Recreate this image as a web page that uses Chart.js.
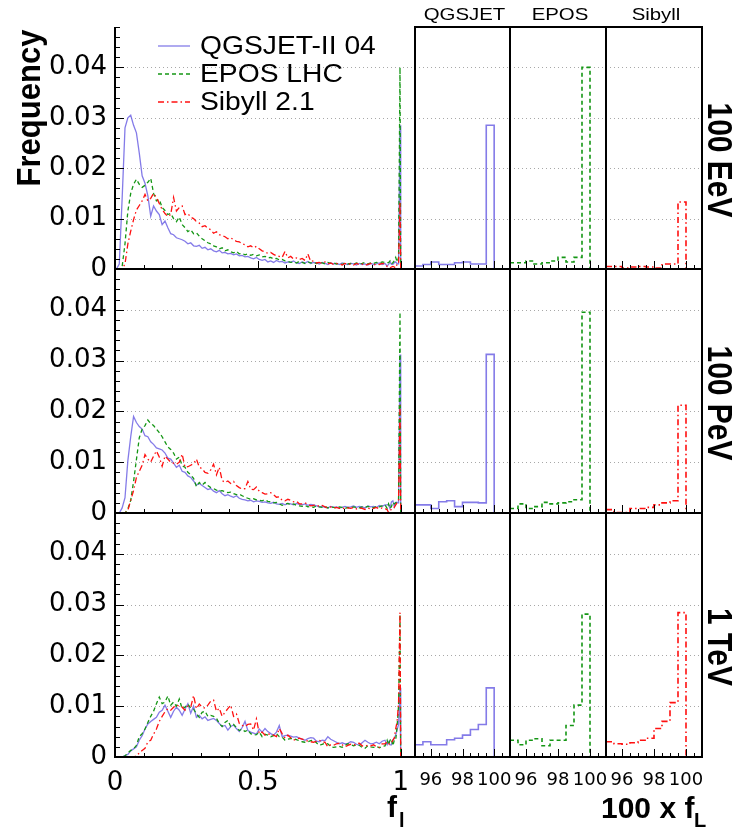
<!DOCTYPE html>
<html>
<head>
<meta charset="utf-8">
<script src="https://cdn.jsdelivr.net/npm/chart.js@4.4.1/dist/chart.umd.min.js"></script>
<style>
body{margin:0;background:#fff;}
#wrap{position:relative;width:733px;height:830px;}
#wrap canvas{position:absolute;left:0;top:0;}
</style>
</head>
<body>
<div id="wrap"></div>
<script>
// rows = primary energy, columns = hadronic model
var energies = ['100 EeV', '100 PeV', '1 TeV'];
var models = ['QGSJET-II 04', 'EPOS LHC', 'Sibyll 2.1'];
var shortNames = ['QGSJET', 'EPOS', 'Sibyll'];

var yTicks = [0, 0.01, 0.02, 0.03, 0.04];
var xTicksMain = [0, 0.5, 1];
var xTicksZoom = [96, 98, 100];

// f_l distribution, bins of 0.01 from 0 to 0.95
var qgsEeV = [0, 0.001, 0.014, 0.028, 0.030, 0.0305, 0.0285, 0.027, 0.023, 0.0185,
  0.0170, 0.0145, 0.0105, 0.0125, 0.0115, 0.0108, 0.0088, 0.0095, 0.0082, 0.0070,
  0.0068, 0.0062, 0.0060, 0.0058, 0.0055, 0.0050, 0.0052, 0.0046, 0.0045, 0.0047,
  0.0041, 0.0043, 0.0038, 0.0040, 0.0036, 0.0034, 0.0037, 0.0032, 0.0033, 0.0030,
  0.0031, 0.0028, 0.0030, 0.0026, 0.0027, 0.0024, 0.0025, 0.0022, 0.0020, 0.0023,
  0.0019, 0.0017, 0.0019, 0.0014, 0.0016, 0.0013, 0.0017, 0.0014, 0.0015, 0.0012,
  0.0014, 0.0013, 0.0016, 0.0012, 0.0011, 0.0014, 0.0012, 0.0015, 0.0011, 0.0013,
  0.0012, 0.0010, 0.0013, 0.0011, 0.0009, 0.0012, 0.0010, 0.0011, 0.0009, 0.0012,
  0.0010, 0.0009, 0.0011, 0.0010, 0.0008, 0.0011, 0.0009, 0.0010, 0.0008, 0.0011,
  0.0009, 0.0010, 0.0012, 0.0009, 0.0011];
var eposEeV = [0, 0, 0.0005, 0.005, 0.0115, 0.0150, 0.0168, 0.0178, 0.0168, 0.0162,
  0.0166, 0.0172, 0.0180, 0.0150, 0.0135, 0.0138, 0.0122, 0.0116, 0.0108, 0.0110,
  0.0100, 0.0094, 0.0103, 0.0088, 0.0082, 0.0074, 0.0078, 0.0070, 0.0072, 0.0065,
  0.0060, 0.0056, 0.0052, 0.0050, 0.0046, 0.0044, 0.0040, 0.0042, 0.0036, 0.0038,
  0.0034, 0.0032, 0.0035, 0.0030, 0.0031, 0.0028, 0.0030, 0.0027, 0.0029, 0.0026,
  0.0028, 0.0024, 0.0025, 0.0022, 0.0023, 0.0020, 0.0021, 0.0018, 0.0019, 0.0016,
  0.0015, 0.0013, 0.0014, 0.0012, 0.0015, 0.0013, 0.0011, 0.0014, 0.0012, 0.0013,
  0.0011, 0.0014, 0.0012, 0.0010, 0.0013, 0.0011, 0.0012, 0.0010, 0.0011, 0.0009,
  0.0012, 0.0010, 0.0011, 0.0009, 0.0012, 0.0010, 0.0011, 0.0013, 0.0010, 0.0012,
  0.0011, 0.0013, 0.0012, 0.0014, 0.0013];
var sibEeV = [0, 0, 0, 0.001, 0.005, 0.0075, 0.0098, 0.0117, 0.0126, 0.0135,
  0.0148, 0.0135, 0.0140, 0.0150, 0.0142, 0.0130, 0.0118, 0.0110, 0.0104, 0.0108,
  0.0142, 0.0115, 0.0122, 0.0125, 0.0108, 0.0110, 0.0103, 0.0100, 0.0094, 0.0091,
  0.0084, 0.0086, 0.0081, 0.0078, 0.0071, 0.0074, 0.0068, 0.0066, 0.0064, 0.0060,
  0.0062, 0.0058, 0.0055, 0.0054, 0.0050, 0.0048, 0.0044, 0.0046, 0.0042, 0.0045,
  0.0040, 0.0036, 0.0034, 0.0031, 0.0033, 0.0029, 0.0026, 0.0025, 0.0023, 0.0035,
  0.0022, 0.0025, 0.0020, 0.0022, 0.0019, 0.0021, 0.0017, 0.0030, 0.0015, 0.0016,
  0.0012, 0.0013, 0.0011, 0.0014, 0.0010, 0.0012, 0.0009, 0.0011, 0.0010, 0.0008,
  0.0011, 0.0009, 0.0010, 0.0008, 0.0011, 0.0009, 0.0010, 0.0007, 0.0009, 0.0011,
  0.0008, 0.0010, 0.0009, 0.0011, 0.0010];

var qgsPeV = [0, 0, 0.001, 0.0030, 0.0103, 0.0150, 0.0190, 0.0178, 0.0170, 0.0165,
  0.0152, 0.0150, 0.0140, 0.0135, 0.0128, 0.0126, 0.0124, 0.0118, 0.0108, 0.0106,
  0.0098, 0.0090, 0.0094, 0.0082, 0.0080, 0.0073, 0.0070, 0.0063, 0.0055, 0.0058,
  0.0054, 0.0050, 0.0046, 0.0048, 0.0043, 0.0040, 0.0044, 0.0038, 0.0034, 0.0036,
  0.0033, 0.0031, 0.0034, 0.0029, 0.0027, 0.0026, 0.0024, 0.0025, 0.0022, 0.0024,
  0.0023, 0.0021, 0.0022, 0.0020, 0.0019, 0.0021, 0.0018, 0.0017, 0.0019, 0.0016,
  0.0019, 0.0018, 0.0016, 0.0019, 0.0017, 0.0016, 0.0018, 0.0015, 0.0017, 0.0016,
  0.0014, 0.0012, 0.0013, 0.0011, 0.0010, 0.0013, 0.0011, 0.0012, 0.0010, 0.0011,
  0.0013, 0.0011, 0.0012, 0.0014, 0.0011, 0.0013, 0.0012, 0.0010, 0.0014, 0.0012,
  0.0013, 0.0011, 0.0015, 0.0013, 0.0016];
var eposPeV = [0, 0, 0, 0, 0.0008, 0.0025, 0.0062, 0.0105, 0.0148, 0.0165,
  0.0172, 0.0183, 0.0176, 0.0172, 0.0165, 0.0158, 0.0150, 0.0140, 0.0130, 0.0125,
  0.0118, 0.0106, 0.0110, 0.0093, 0.0090, 0.0080, 0.0075, 0.0068, 0.0052, 0.0060,
  0.0055, 0.0060, 0.0054, 0.0050, 0.0048, 0.0045, 0.0043, 0.0044, 0.0042, 0.0040,
  0.0041, 0.0038, 0.0036, 0.0037, 0.0034, 0.0031, 0.0029, 0.0027, 0.0028, 0.0026,
  0.0025, 0.0024, 0.0026, 0.0023, 0.0022, 0.0020, 0.0021, 0.0018, 0.0015, 0.0017,
  0.0019, 0.0016, 0.0018, 0.0015, 0.0014, 0.0013, 0.0015, 0.0012, 0.0013, 0.0011,
  0.0014, 0.0012, 0.0011, 0.0013, 0.0010, 0.0012, 0.0011, 0.0010, 0.0012, 0.0011,
  0.0009, 0.0011, 0.0010, 0.0012, 0.0011, 0.0010, 0.0012, 0.0011, 0.0013, 0.0012,
  0.0010, 0.0013, 0.0012, 0.0014, 0.0016];
var sibPeV = [0, 0, 0, 0, 0.0005, 0.0025, 0.0044, 0.0070, 0.0082, 0.0094,
  0.0115, 0.0106, 0.0100, 0.0112, 0.0122, 0.0110, 0.0092, 0.0112, 0.0106, 0.0100,
  0.0098, 0.0096, 0.0100, 0.0116, 0.0090, 0.0091, 0.0094, 0.0097, 0.0106, 0.0090,
  0.0087, 0.0080, 0.0078, 0.0085, 0.0096, 0.0075, 0.0090, 0.0064, 0.0060, 0.0063,
  0.0058, 0.0062, 0.0054, 0.0050, 0.0047, 0.0048, 0.0062, 0.0047, 0.0046, 0.0051,
  0.0043, 0.0040, 0.0037, 0.0038, 0.0040, 0.0036, 0.0031, 0.0032, 0.0025, 0.0024,
  0.0027, 0.0025, 0.0022, 0.0023, 0.0018, 0.0018, 0.0020, 0.0017, 0.0014, 0.0015,
  0.0016, 0.0013, 0.0015, 0.0012, 0.0010, 0.0012, 0.0010, 0.0011, 0.0009, 0.0010,
  0.0008, 0.0010, 0.0009, 0.0011, 0.0008, 0.0010, 0.0009, 0.0007, 0.0010, 0.0008,
  0.0009, 0.0011, 0.0008, 0.0010, 0.0009];

var qgsTeV = [0, 0, 0, 0.0003, 0.0005, 0.0012, 0.0016, 0.0020, 0.0033, 0.0042,
  0.0055, 0.0065, 0.0070, 0.0074, 0.0078, 0.0088, 0.0092, 0.0102, 0.0090, 0.0078,
  0.0090, 0.0098, 0.0092, 0.0082, 0.0094, 0.0105, 0.0086, 0.0100, 0.0078, 0.0082,
  0.0075, 0.0079, 0.0072, 0.0074, 0.0076, 0.0072, 0.0066, 0.0060, 0.0062, 0.0053,
  0.0060, 0.0063, 0.0056, 0.0050, 0.0058, 0.0070, 0.0052, 0.0049, 0.0047, 0.0045,
  0.0055, 0.0049, 0.0056, 0.0050, 0.0046, 0.0043, 0.0049, 0.0062, 0.0040, 0.0042,
  0.0043, 0.0041, 0.0039, 0.0040, 0.0037, 0.0035, 0.0033, 0.0036, 0.0038, 0.0037,
  0.0031, 0.0030, 0.0033, 0.0032, 0.0040, 0.0035, 0.0032, 0.0029, 0.0026, 0.0028,
  0.0026, 0.0027, 0.0030, 0.0029, 0.0025, 0.0023, 0.0028, 0.0033, 0.0029, 0.0026,
  0.0027, 0.0029, 0.0026, 0.0031, 0.0033];
var eposTeV = [0, 0, 0, 0.0002, 0.0008, 0.0013, 0.0016, 0.0023, 0.0040, 0.0046,
  0.0055, 0.0068, 0.0080, 0.0090, 0.0105, 0.0118, 0.0105, 0.0108, 0.0120, 0.0102,
  0.0108, 0.0100, 0.0114, 0.0095, 0.0098, 0.0104, 0.0096, 0.0094, 0.0085, 0.0078,
  0.0088, 0.0090, 0.0080, 0.0082, 0.0080, 0.0076, 0.0066, 0.0060, 0.0068, 0.0072,
  0.0060, 0.0064, 0.0058, 0.0052, 0.0055, 0.0050, 0.0053, 0.0046, 0.0043, 0.0044,
  0.0049, 0.0040, 0.0045, 0.0043, 0.0040, 0.0042, 0.0046, 0.0040, 0.0039, 0.0033,
  0.0035, 0.0036, 0.0036, 0.0034, 0.0032, 0.0030, 0.0029, 0.0030, 0.0032, 0.0033,
  0.0028, 0.0023, 0.0025, 0.0027, 0.0026, 0.0020, 0.0019, 0.0020, 0.0021, 0.0019,
  0.0023, 0.0026, 0.0024, 0.0022, 0.0024, 0.0023, 0.0019, 0.0017, 0.0022, 0.0020,
  0.0019, 0.0021, 0.0018, 0.0021, 0.0022];
var sibTeV = [0, 0, 0, 0, 0, 0, 0, 0.0002, 0.0008, 0.0013,
  0.0017, 0.0030, 0.0033, 0.0045, 0.0055, 0.0070, 0.0080, 0.0089, 0.0095, 0.0092,
  0.0098, 0.0102, 0.0100, 0.0098, 0.0092, 0.0100, 0.0098, 0.0121, 0.0095, 0.0104,
  0.0098, 0.0096, 0.0102, 0.0110, 0.0112, 0.0090, 0.0096, 0.0080, 0.0088, 0.0095,
  0.0102, 0.0080, 0.0085, 0.0066, 0.0062, 0.0060, 0.0064, 0.0065, 0.0053, 0.0075,
  0.0046, 0.0049, 0.0043, 0.0046, 0.0044, 0.0043, 0.0040, 0.0056, 0.0046, 0.0037,
  0.0043, 0.0038, 0.0033, 0.0035, 0.0037, 0.0035, 0.0033, 0.0031, 0.0030, 0.0029,
  0.0031, 0.0033, 0.0030, 0.0029, 0.0020, 0.0024, 0.0023, 0.0026, 0.0027, 0.0024,
  0.0020, 0.0023, 0.0025, 0.0023, 0.0026, 0.0027, 0.0022, 0.0021, 0.0023, 0.0022,
  0.0024, 0.0020, 0.0019, 0.0026, 0.0026];

// last 10 bins, 100 x f_L from 95 to 100 (width 0.5) - also the tail of the main plot
var qgsEeVTail  = [0.0006, 0.0009, 0.0014, 0.0009, 0.0009, 0.00125, 0.0014, 0.0010, 0.0010, 0.0285];
var eposEeVTail = [0.00125, 0.00125, 0.0016, 0.0010, 0.00125, 0.0016, 0.0023, 0.0014, 0.0023, 0.0400];
var sibEeVTail  = [0.0005, 0.0005, 0.0002, 0.0004, 0.0005, 0.0004, 0.0002, 0.0010, 0.0010, 0.0133];
var qgsPeVTail  = [0.0016, 0.0016, 0.0009, 0.0022, 0.0024, 0.00125, 0.0021, 0.0021, 0.0020, 0.0312];
var eposPeVTail = [0.0009, 0.0018, 0.0009, 0.00125, 0.0021, 0.0018, 0.0020, 0.0022, 0.0026, 0.0395];
var sibPeVTail  = [0.00066, 0.0001, 0.0001, 0.0009, 0.0009, 0.0011, 0.0016, 0.0020, 0.0024, 0.0212];
var qgsTeVTail  = [0.0024, 0.0030, 0.0024, 0.0024, 0.0034, 0.0037, 0.0043, 0.0054, 0.0064, 0.0136];
var eposTeVTail = [0.0033, 0.0024, 0.0033, 0.0036, 0.0022, 0.0033, 0.0033, 0.0062, 0.0102, 0.0281];
var sibTeVTail  = [0.0030, 0.0026, 0.0025, 0.0028, 0.0033, 0.0037, 0.0056, 0.0070, 0.0107, 0.0284];

var bodies = [[qgsEeV, eposEeV, sibEeV], [qgsPeV, eposPeV, sibPeV], [qgsTeV, eposTeV, sibTeV]];
var tails = [[qgsEeVTail, eposEeVTail, sibEeVTail], [qgsPeVTail, eposPeVTail, sibPeVTail], [qgsTeVTail, eposTeVTail, sibTeVTail]];

// page layout
var W = 733, H = 830;
var COLS = [115, 415, 510, 606, 702];
var ROWS = [27, 269, 513, 757];
var YMAX = 0.048;

var styles = [
  {color: 'rgba(110,100,228,0.85)', dash: [], width: 1.3},
  {color: '#149614', dash: [4, 3], width: 1.3},
  {color: '#ff1010', dash: [6, 3, 1.5, 3], width: 1.3}
];

function mainPoints(body, tail) {
  var pts = body.map(function(v, k){ return {x: (k + 0.5) * 0.01, y: v}; });
  tail.forEach(function(v, j){ pts.push({x: 0.95 + (j + 0.5) * 0.005, y: v}); });
  pts.push({x: 1.0, y: 0});
  return pts;
}
function zoomPoints(tail) {
  var pts = tail.map(function(v, j){ return {x: 95 + j * 0.5, y: v}; });
  pts.push({x: 100, y: 0});
  return pts;
}

function label(ctx, s, x, y, font, align, base, rot, sx) {
  ctx.save();
  ctx.translate(x, y);
  ctx.scale(sx || 1, 1);
  if (rot) ctx.rotate(rot);
  ctx.font = font;
  ctx.textAlign = align;
  ctx.textBaseline = base;
  ctx.fillStyle = '#000';
  ctx.fillText(s, 0, 0);
  ctx.restore();
}

var panelPlugin = {
  id: 'panel',
  beforeDatasetsDraw: function(chart) {
    var ctx = chart.ctx, a = chart.chartArea, ys = chart.scales.y;
    ctx.save();
    ctx.strokeStyle = '#a8a8a8';
    ctx.lineWidth = 1;
    ctx.setLineDash([1, 3]);
    yTicks.forEach(function(v){
      if (v === 0) return;
      var y = Math.round(ys.getPixelForValue(v)) + 0.5;
      ctx.beginPath(); ctx.moveTo(a.left, y); ctx.lineTo(a.right, y); ctx.stroke();
    });
    ctx.restore();
  },
  afterDraw: function(chart, args, o) {
    var ctx = chart.ctx, a = chart.chartArea;
    var xs = chart.scales.x, ys = chart.scales.y;
    var i, p, len;
    ctx.save();
    ctx.strokeStyle = '#000';
    ctx.lineWidth = 1;
    if (o.col === 0) {
      for (i = 0; i <= 24; i++) {
        p = Math.round(ys.getPixelForValue(i * 0.002)) + 0.5;
        len = i % 5 === 0 ? 9 : 5;
        ctx.beginPath(); ctx.moveTo(a.left, p); ctx.lineTo(a.left + len, p); ctx.stroke();
      }
      for (i = 0; i <= 10; i++) {
        p = Math.round(xs.getPixelForValue(i * 0.1)) + 0.5;
        len = i % 5 === 0 ? 8 : 4;
        ctx.beginPath(); ctx.moveTo(p, a.bottom); ctx.lineTo(p, a.bottom - len); ctx.stroke();
      }
    } else {
      for (i = 0; i <= 12; i++) {
        var v = 95 + i * 0.5;
        p = Math.round(xs.getPixelForValue(v)) + 0.5;
        len = (v % 2 === 0) ? 8 : 4;
        ctx.beginPath(); ctx.moveTo(p, a.bottom); ctx.lineTo(p, a.bottom - len); ctx.stroke();
      }
    }
    // frame
    ctx.lineWidth = 2;
    ctx.beginPath();
    if (o.col === 0) {
      ctx.moveTo(a.left, a.top); ctx.lineTo(a.left, a.bottom); ctx.lineTo(a.right, a.bottom);
      ctx.moveTo(a.right, a.top); ctx.lineTo(a.right, a.bottom);
    } else {
      ctx.rect(a.left, a.top, a.right - a.left, a.bottom - a.top);
    }
    ctx.stroke();
    ctx.restore();

    var f = '"Liberation Sans", Arial, sans-serif';
    if (o.col === 0 && o.row === 0) {
      label(ctx, 'Frequency', 40, 108, 'bold 31px ' + f, 'center', 'alphabetic', -Math.PI / 2, 1.05);
      chart.data.datasets.forEach(function(ds, m){
        var y = 46 + 28 * m;
        ctx.save();
        ctx.strokeStyle = ds.borderColor; ctx.lineWidth = ds.borderWidth; ctx.setLineDash(ds.borderDash);
        ctx.beginPath(); ctx.moveTo(158, y); ctx.lineTo(190, y); ctx.stroke();
        ctx.restore();
        label(ctx, ds.label, 200, y + 1, '25px ' + f, 'left', 'middle', 0, 1.13);
      });
    }
    if (o.col > 0 && o.row === 0) {
      label(ctx, shortNames[o.col - 1], (a.left + a.right) / 2 + 2, 15, '17px ' + f, 'center', 'middle', 0, 1.2);
    }
    if (o.col === 3) {
      label(ctx, energies[o.row], 718, (a.top + a.bottom) / 2 + 12, 'bold 30px ' + f, 'center', 'middle', Math.PI / 2, 1.15);
    }
    if (o.row === 2 && o.col === 0) {
      label(ctx, 'f', 387, 817, 'bold 30px ' + f, 'left', 'alphabetic', 0, 1);
      label(ctx, 'l', 399, 827, 'bold 20px ' + f, 'left', 'alphabetic', 0, 1);
    }
    if (o.row === 2 && o.col === 3) {
      label(ctx, '100 x f', 601, 818, 'bold 30px ' + f, 'left', 'alphabetic', 0, 1);
      label(ctx, 'L', 694, 827, 'bold 20px ' + f, 'left', 'alphabetic', 0, 1);
    }
  }
};

function makeChart(row, col) {
  var canvas = document.createElement('canvas');
  canvas.width = W; canvas.height = H;
  document.getElementById('wrap').appendChild(canvas);
  var isMain = col === 0;
  var bottomRow = row === 2;
  var which = isMain ? [0, 1, 2] : [col - 1];
  var datasets = which.map(function(m){
    var st = styles[m];
    return {
      label: models[m],
      data: isMain ? mainPoints(bodies[row][m], tails[row][m]) : zoomPoints(tails[row][m]),
      borderColor: st.color,
      borderWidth: isMain ? st.width : st.width + 0.3,
      borderDash: st.dash,
      pointRadius: 0,
      fill: false,
      tension: 0,
      stepped: !isMain,
      order: 3 - m
    };
  });
  return new Chart(canvas, {
    type: 'line',
    data: {datasets: datasets},
    options: {
      responsive: false,
      animation: false,
      events: [],
      layout: {
        autoPadding: false,
        padding: {
          left: isMain ? 0 : COLS[col],
          right: W - COLS[col + 1],
          top: ROWS[row],
          bottom: H - ROWS[row + 1] - (bottomRow ? 60 : 0)
        }
      },
      plugins: {
        legend: {display: false},
        tooltip: {enabled: false},
        panel: {row: row, col: col}
      },
      scales: {
        x: {
          type: 'linear',
          min: isMain ? 0 : 95,
          max: isMain ? 1.05 : 101,
          grid: {display: false},
          border: {display: false},
          ticks: {
            display: bottomRow,
            autoSkip: false,
            maxRotation: 0,
            padding: isMain ? 3 : 5,
            color: '#000',
            font: {family: 'DejaVu Sans', size: isMain ? 26 : 18},
            callback: function(v){ return String(v); }
          },
          afterBuildTicks: function(s){ s.ticks = (isMain ? xTicksMain : xTicksZoom).map(function(v){ return {value: v}; }); },
          afterFit: function(s){ s.height = bottomRow ? 60 : 0; }
        },
        y: {
          type: 'linear',
          min: 0,
          max: YMAX,
          grid: {display: false},
          border: {display: false},
          ticks: {
            display: isMain,
            padding: 0,
            color: '#000',
            font: {family: 'DejaVu Sans', size: 26},
            callback: function(v){ return v === 0 ? '0' : v.toFixed(2); }
          },
          afterBuildTicks: function(s){ s.ticks = yTicks.map(function(v){ return {value: v}; }); },
          afterFit: function(s){ s.width = isMain ? 115 : 0; }
        }
      }
    },
    plugins: [panelPlugin]
  });
}

for (var r = 0; r < 3; r++) {
  for (var c = 0; c < 4; c++) {
    makeChart(r, c);
  }
}
</script>
</body>
</html>
